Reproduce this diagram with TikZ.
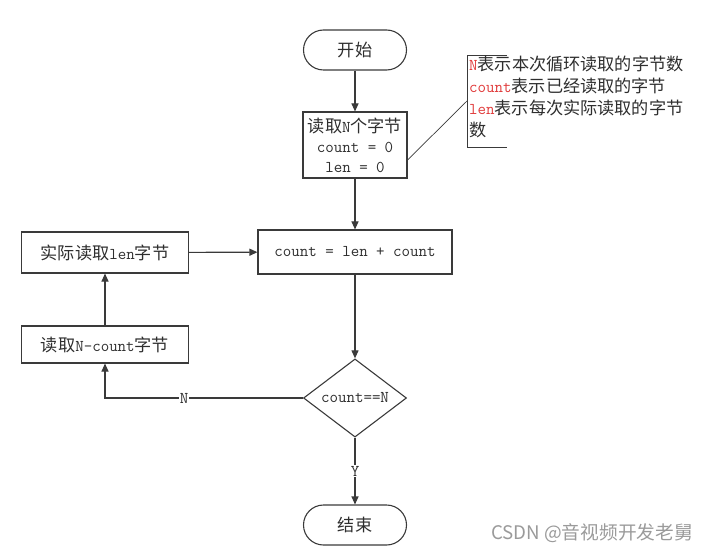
\documentclass[tikz,border=0pt]{standalone}
\usepackage{fontspec}
\usetikzlibrary{arrows.meta,shapes.geometric}
\newfontfamily\cjk{Noto Sans CJK SC}[Scale=1.04]
\newcommand{\zh}[1]{{\cjk #1}}
\newcommand{\hl}[1]{\textcolor{notered}{#1}}
\definecolor{linegray}{HTML}{3A3A3A}
\definecolor{textgray}{HTML}{2E2E2E}
\definecolor{notered}{HTML}{E03A3A}
\definecolor{markgray}{HTML}{9A9A9A}

\tikzset{
  base/.style={draw=linegray, line width=1.1pt, text=textgray, inner sep=0pt,
    align=center, font=\ttfamily\fontsize{16.5}{20}\selectfont},
  terminal/.style={base, rectangle, rounded corners=20pt, minimum width=103pt, minimum height=40pt},
  process/.style={base, rectangle, minimum height=41pt},
  decision/.style={base, diamond, minimum width=103pt, minimum height=60pt},
  flow/.style={draw=linegray, line width=1.1pt, -{Triangle[length=8pt,width=7pt]}},
  tag/.style={fill=white, text=textgray, inner sep=1pt, font=\ttfamily\fontsize{16.5}{20}\selectfont}
}

\begin{document}
\begin{tikzpicture}[x=1pt, y=-1pt]
    \useasboundingbox (0,0) rectangle (711,553);

    % Main column
    \node[terminal] (start) at (355,50) {\zh{开始}};
    \node[process, minimum width=104pt, minimum height=66pt] (readN) at (355,145)
        {\zh{读取}N\zh{个字节}\\count = 0\\len = 0};
    \node[process, minimum width=194pt, minimum height=44pt] (addcount) at (355,252) {count = len + count};
    \node[decision] (check) at (355,398) {count==N};
    \node[terminal] (stop) at (355,525) {\zh{结束}};

    % Left column
    \node[process, minimum width=167pt] (readlen) at (105,252.5) {\zh{实际读取}len\zh{字节}};
    \node[process, minimum width=167pt, minimum height=37pt] (readrest) at (105,344.5) {\zh{读取}N-count\zh{字节}};

    % Connectors
    \draw[flow] (start) -- (readN);
    \draw[flow] (readN) -- (addcount);
    \draw[flow] (addcount) -- (check);
    \draw[flow] (check) -- node[tag] {Y} (stop);
    \draw[flow] (check.west) -| node[tag, pos=0.3] {N} (readrest.south);
    \draw[flow] (readrest) -- (readlen);
    \draw[flow] (readlen) -- (addcount);

    % Annotation
    \coordinate (bracket) at (467,101);
    \draw[linegray, line width=0.8pt] (507,55) -- (467,55) -- (467,147) -- (507,147);
    \draw[linegray, line width=0.7pt] ([yshift=-15pt]readN.east) -- (bracket);
    \node[anchor=north west, align=left, inner sep=0pt, text=textgray,
          font=\ttfamily\fontsize{16.5}{22}\selectfont] (note) at (469,56)
        {\hl{N}\zh{表示本次循环读取的字节数}\\
         \hl{count}\zh{表示已经读取的字节}\\
         \hl{len}\zh{表示每次实际读取的字节}\\
         \zh{数}};

    % Watermark
    \node[text=markgray, inner sep=0pt, font=\cjk\fontsize{18}{18}\selectfont] (mark) at (592,533) {CSDN @音视频开发老舅};
\end{tikzpicture}
\end{document}
